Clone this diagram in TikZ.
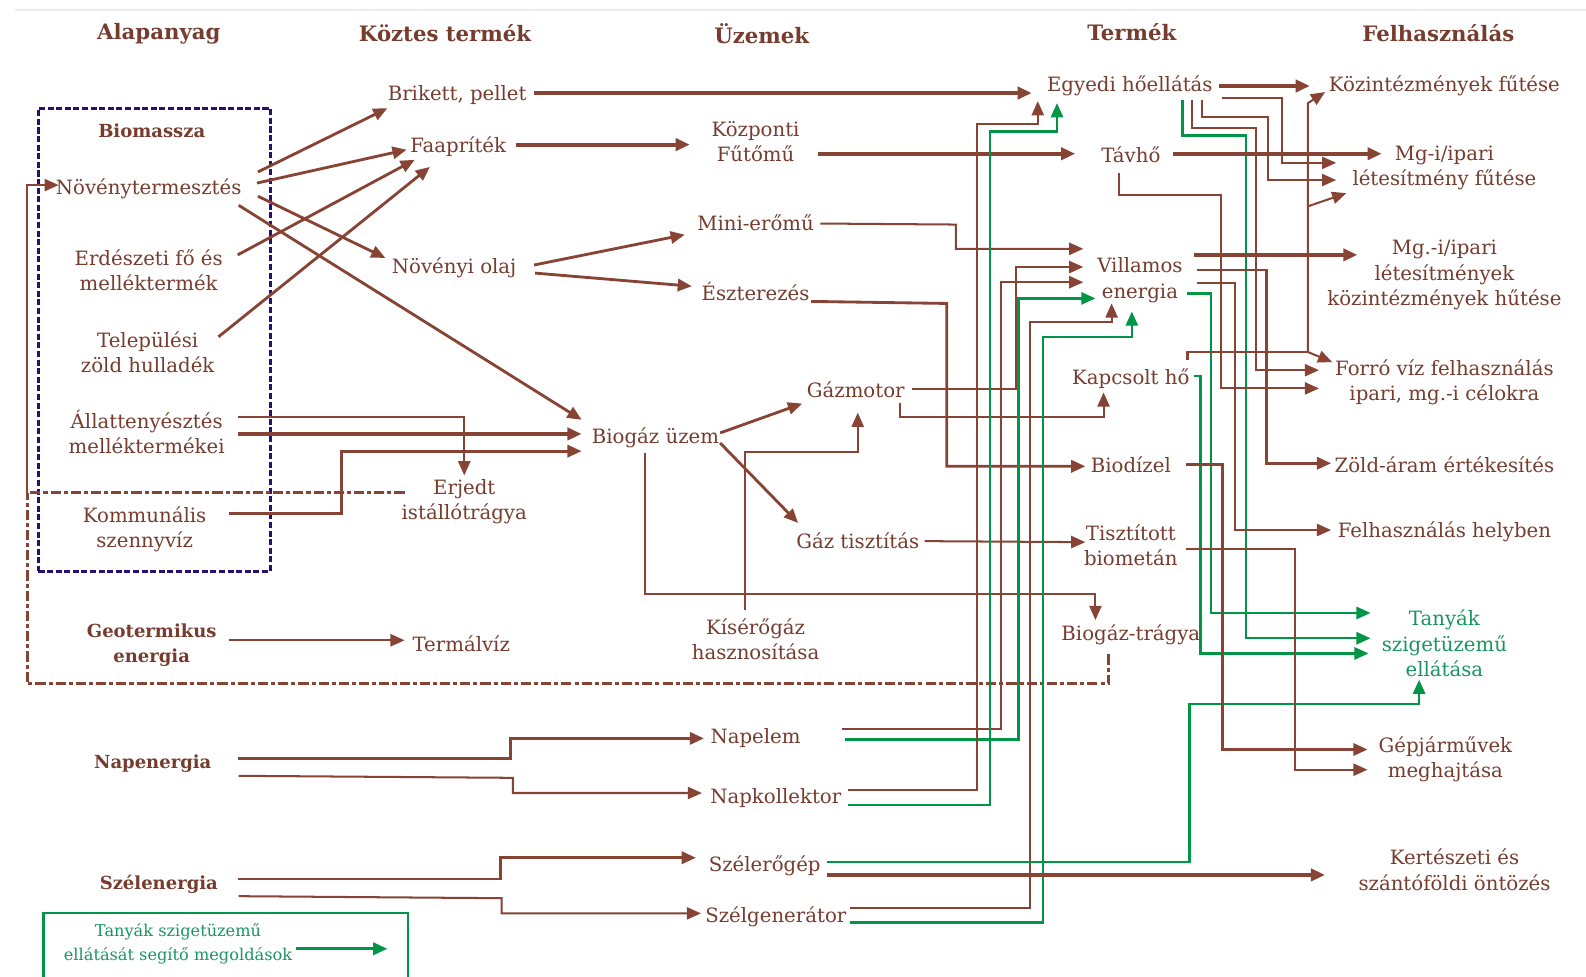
\documentclass[tikz,border=0pt]{standalone}
\usepackage{fontspec}
\setmainfont{DejaVu Serif}
\usetikzlibrary{arrows.meta,calc}
\definecolor{brn}{RGB}{135,68,52}
\definecolor{txt}{RGB}{118,60,46}
\definecolor{grn}{RGB}{0,150,70}
\definecolor{gtxt}{RGB}{25,150,95}
\definecolor{navy}{RGB}{42,14,112}
\begin{document}
\begin{tikzpicture}[x=1pt,y=-1pt,
  lbl/.style={text=txt,font=\fontsize{19.5}{25}\selectfont,align=center,inner sep=2pt},
  bl/.style={text=txt,font=\fontsize{17.8}{25}\selectfont\bfseries,align=center,inner sep=2pt},
  hd/.style={text=txt,font=\fontsize{21}{27}\selectfont\bfseries,inner sep=2pt},
  gl/.style={text=gtxt,font=\fontsize{19.5}{25}\selectfont,align=center,inner sep=2pt},
  lg/.style={text=gtxt,font=\fontsize{16}{23}\selectfont,align=center,inner sep=2pt},
  wA/.style={draw=brn,line width=2pt},
  wB/.style={draw=brn,line width=2.8pt},
  wC/.style={draw=brn,line width=4pt},
  gA/.style={draw=grn,line width=2.4pt},
  arr/.style={-{Triangle[length=14pt,width=12pt]}},
  dsh/.style={draw=brn,line width=2.8pt,dash pattern=on 10pt off 3pt on 4pt off 3pt},
]
\useasboundingbox (0,0) rectangle (1568,965);
\fill[white] (0,0) rectangle (1568,965);
\draw[black!8,line width=2pt] (15,10) -- (1568,10);

% headers
\node[hd] (h1) at (157,33) {Alapanyag};
\node[hd] (h2) at (440,33) {Köztes termék};
\node[hd] (h3) at (753,33) {Üzemek};
\node[hd] (h4) at (1119,32) {Termék};
\node[hd] (h5) at (1422,33) {Felhasználás};

% boxes
\node[draw=navy,line width=3pt,dash pattern=on 6pt off 2.5pt,minimum width=229pt,minimum height=458pt,inner sep=0pt] (biobox) at (152.5,336) {};
\node[draw=grn,line width=2pt,minimum width=360pt,minimum height=74pt,inner sep=0pt] (legbox) at (223,940) {};

% column 1
\node[bl] (biom) at (150,129) {Biomassza};
\node[lbl] (nov) at (147,187) {Növénytermesztés};
\node[lbl] (erd) at (147,267) {Erdészeti fő és\\melléktermék};
\node[lbl] (tel) at (146,348) {Települési\\zöld hulladék};
\node[lbl] (all) at (145,427) {Állattenyésztés\\melléktermékei};
\node[lbl] (kom) at (143,523) {Kommunális\\szennyvíz};
\node[bl] (geo) at (150,638) {Geotermikus\\energia};
\node[bl] (nap) at (151,755) {Napenergia};
\node[bl] (szel) at (157,874) {Szélenergia};
\node[lg] (legt) at (176,933) {Tanyák szigetüzemű\\ellátását segítő megoldások};

% column 2
\node[lbl] (bri) at (452,94) {Brikett, pellet};
\node[lbl] (faa) at (453,145) {Faapríték};
\node[lbl] (olaj) at (449,265) {Növényi olaj};
\node[lbl] (erj) at (459,496) {Erjedt\\istállótrágya};
\node[lbl] (ter) at (456,636) {Termálvíz};

% column 3
\node[lbl] (koz) at (747,140) {Központi\\Fűtőmű};
\node[lbl] (mini) at (747,220) {Mini-erőmű};
\node[lbl] (esz) at (747,288) {Észterezés};
\node[lbl] (gaz) at (846,385) {Gázmotor};
\node[lbl] (bio) at (648,433) {Biogáz üzem};
\node[lbl] (gtisz) at (848,535) {Gáz tisztítás};
\node[lbl] (kis) at (747,632) {Kísérőgáz\\hasznosítása};
\node[lbl] (nape) at (747,730) {Napelem};
\node[lbl] (napk) at (767,789) {Napkollektor};
\node[lbl] (szg) at (756,856) {Szélerőgép};
\node[lbl] (szgen) at (767,906) {Szélgenerátor};

% column 4
\node[lbl] (egy) at (1117,85) {Egyedi hőellátás};
\node[lbl] (tav) at (1118,153) {Távhő};
\node[lbl] (vil) at (1127,277) {Villamos\\energia};
\node[lbl] (kap) at (1118,374) {Kapcsolt hő};
\node[lbl] (bdz) at (1118,459) {Biodízel};
\node[lbl] (tbm) at (1118,539) {Tisztított\\biometán};
\node[lbl] (bgt) at (1118,628) {Biogáz-trágya};

% column 5
\node[lbl] (kozf) at (1428,85) {Közintézmények fűtése};
\node[lbl] (mgf) at (1428,166) {Mg-i/ipari\\létesítmény fűtése};
\node[lbl] (mgh) at (1428,272) {Mg.-i/ipari\\létesítmények\\közintézmények hűtése};
\node[lbl] (forr) at (1428,378) {Forró víz felhasználás\\ipari, mg.-i célokra};
\node[lbl] (zold) at (1428,459) {Zöld-áram értékesítés};
\node[lbl] (helyb) at (1428,526) {Felhasználás helyben};
\node[gl] (tany) at (1428,636) {Tanyák\\szigetüzemű\\ellátása};
\node[lbl] (gep) at (1429,751) {Gépjárművek\\meghajtása};
\node[lbl] (kert) at (1438,860) {Kertészeti és\\szántóföldi öntözés};

% ---------- left connectors
\draw[wB,arr] ($(nov)+(108,-17)$) -- ($(bri)+(-69,13)$);
\draw[wB,arr] ($(nov)+(107,-6)$) -- ($(faa)+(-51,3)$);
\draw[wB,arr] ($(erd)+(88,-15)$) -- ($(faa)+(-43,13)$);
\draw[wB,arr] ($(tel)+(70,-15)$) -- ($(faa)+(-28,20)$);
\draw[wB,arr] ($(nov)+(108,7)$) -- ($(olaj)+(-68,-10)$);
\draw[wB,arr] ($(nov)+(89,16)$) -- ($(bio)+(-73,-18)$);
\draw[wA,arr] ($(all)+(90,-15)$) -- (459,412) -- ($(erj)+(0,-26)$);
\draw[wC,arr] ($(all)+(90,2)$) -- ($(bio)+(-73,-4)$);
\draw[wB,arr] ($(kom)+(83,-15)$) -- (338,508) -- (338,446) -- ($(bio)+(-73,13)$);
\draw[wA,arr] ($(geo)+(76,-5)$) -- ($(ter)+(-56,-3)$);

% recycling loop
\coordinate (loopj) at (27,487);
\draw[dsh] ($(bgt)+(-22,19)$) -- (1096,676) -- (27,676) -- (loopj);
\draw[dsh] ($(erj)+(-59,-9)$) -- (loopj);
\draw[wA,arr] (loopj) -- (27,183) -- ($(nov)+(-89,-4)$);

% ---------- middle connectors
\draw[wC,arr] ($(bri)+(76,-2)$) -- ($(egy)+(-97,7)$);
\draw[wC,arr] ($(faa)+(57,-2)$) -- ($(koz)+(-65,3)$);
\draw[wC,arr] ($(koz)+(62,12)$) -- ($(tav)+(-55,-1)$);
\draw[wB,arr] ($(olaj)+(79,-3)$) -- ($(mini)+(-70,12)$);
\draw[wB,arr] ($(olaj)+(80,5)$) -- ($(esz)+(-63,-5)$);
\draw[wA,arr] ($(mini)+(64,1)$) -- (945,222) -- (945,246) -- ($(vil)+(-56,-31)$);
\draw[wB,arr] ($(esz)+(55,10)$) -- (936,300) -- (936,461) -- ($(bdz)+(-45,2)$);
\draw[wB,arr] ($(bio)+(64,-5)$) -- ($(gaz)+(-53,14)$);
\draw[wB,arr] ($(bio)+(64,5)$) -- ($(gtisz)+(-59,-18)$);
\draw[wA,arr] ($(bio)+(-10,15)$) -- (638,587) -- (1083,587) -- ($(bgt)+(-35,-15)$);
\draw[wA,arr] ($(kis)+(-10,-29)$) -- (737,447) -- (848,447) -- ($(gaz)+(2,23)$);
\draw[wA,arr] ($(gaz)+(56,0)$) -- (1004,385) -- (1004,264) -- ($(vil)+(-56,-13)$);
\draw[wA,arr] ($(gaz)+(44,13)$) -- (890,412) -- (1091,412) -- ($(kap)+(-27,14)$);
\draw[wA,arr] ($(gtisz)+(66,0)$) -- ($(tbm)+(-45,-3)$);
\draw[wA,arr] ($(nape)+(85,-9)$) -- (990,721) -- (990,279) -- ($(vil)+(-56,2)$);
\draw[gA,arr] ($(nape)+(88,1)$) -- (1007,731) -- (1007,295) -- ($(vil)+(-44,18)$);
\draw[wA,arr] ($(napk)+(71,-8)$) -- (966,781) -- (966,123) -- (1026,123) -- ($(egy)+(-91,15)$);
\draw[gA,arr] ($(napk)+(71,7)$) -- (979,796) -- (979,130) -- (1045,130) -- ($(egy)+(-72,17)$);
\draw[wA,arr] ($(szgen)+(73,-8)$) -- (1018,898) -- (1018,318) -- (1099,318) -- ($(vil)+(-28,23)$);
\draw[gA,arr] ($(szgen)+(73,6)$) -- (1031,912) -- (1031,333) -- (1119,333) -- ($(vil)+(-8,31)$);
\draw[wC,arr] ($(szg)+(62,9)$) -- ($(kert)+(-128,5)$);
\draw[gA,arr] ($(szg)+(62,-4)$) -- (1176,852) -- (1176,696) -- (1403,696) -- ($(tany)+(-25,36)$);

% ---------- sun / wind inputs
\draw[wB,arr] ($(nap)+(84,-5)$) -- (505,750) -- (505,730) -- ($(nape)+(-51,0)$);
\draw[wA,arr] ($(nap)+(85,12)$) -- (507,769) -- (507,784) -- ($(napk)+(-73,-5)$);
\draw[wB,arr] ($(szel)+(78,-5)$) -- (495,869) -- (495,848) -- ($(szg)+(-68,-8)$);
\draw[wA,arr] ($(szel)+(79,12)$) -- (496,888) -- (496,903) -- ($(szgen)+(-74,-3)$);

% ---------- right connectors
\draw[wC,arr] ($(egy)+(88,0)$) -- ($(kozf)+(-133,0)$);
\draw[wA,arr] ($(egy)+(91,12)$) -- (1267,97) -- (1267,161) -- ($(mgf)+(-107,-5)$);
\draw[wA,arr] ($(egy)+(71,14)$) -- (1188,116) -- (1254,116) -- (1254,178) -- ($(mgf)+(-107,12)$);
\draw[wA,arr] ($(egy)+(61,14)$) -- (1178,127) -- (1242,127) -- (1242,366) -- ($(forr)+(-124,-12)$);
\draw[gA,arr] ($(egy)+(52,14)$) -- (1169,134) -- (1232,134) -- (1232,631) -- ($(tany)+(-73,-5)$);
\draw[wC,arr] ($(tav)+(42,-1)$) -- ($(mgf)+(-62,-14)$);
\draw[wA,arr] ($(tav)+(-12,18)$) -- (1106,193) -- (1207,193) -- (1207,384) -- ($(forr)+(-124,6)$);
\draw[wC,arr] ($(vil)+(53,-25)$) -- ($(mgh)+(-86,-20)$);
\draw[wB,arr] ($(vil)+(56,-10)$) -- (1252,267) -- (1252,458) -- ($(zold)+(-112,-1)$);
\draw[wA,arr] ($(vil)+(56,3)$) -- (1221,280) -- (1221,524) -- ($(helyb)+(-112,-2)$);
\draw[gA,arr] ($(vil)+(47,13)$) -- (1197,290) -- (1197,606) -- ($(tany)+(-73,-30)$);
\coordinate (kj) at (1293,348);
\coordinate (kb) at (1293,204);
\draw[wA] ($(kap)+(56,-18)$) -- (1174,348) -- (kj);
\draw[wA,arr] (kj) -- ($(forr)+(-111,-20)$);
\draw[wA,arr] (kj) -- (1293,102) -- ($(kozf)+(-118,6)$);
\draw[wA,arr] (kb) -- ($(mgf)+(-97,25)$);
\draw[gA,arr] ($(kap)+(62,-2)$) -- (1187,372) -- (1187,646) -- ($(tany)+(-75,10)$);
\draw[wB,arr] ($(bdz)+(55,0)$) -- (1209,459) -- (1209,741) -- ($(gep)+(-77,-10)$);
\draw[wA,arr] ($(tbm)+(55,4)$) -- (1280,543) -- (1280,761) -- ($(gep)+(-77,10)$);

% legend arrow
\coordinate (legtip) at (383,938);
\draw[gA,line width=2.8pt,arr] ($(legt)+(117,5)$) -- (legtip);
\end{tikzpicture}
\end{document}
